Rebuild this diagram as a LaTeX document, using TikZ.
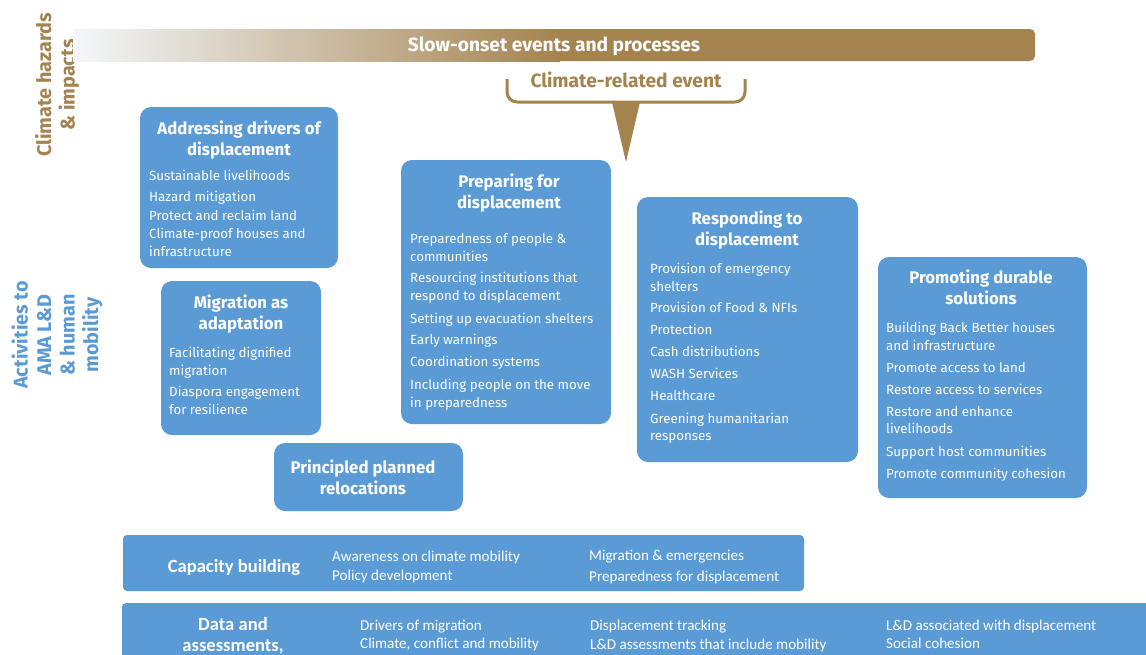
\documentclass[tikz,border=0pt]{standalone}
\usepackage{fontspec}
\setmainfont{Fira Sans}
\newfontfamily\calfont{Carlito}
\definecolor{amablue}{RGB}{91,155,213}
\definecolor{amabrown}{RGB}{164,131,79}
\definecolor{amafade}{RGB}{244,247,251}
\begin{document}
\begin{tikzpicture}[x=1pt,y=-1pt,
  card/.style={fill=amablue, rounded corners=11pt},
  bar/.style={fill=amablue, rounded corners=4pt},
  headtxt/.style={font=\fontsize{16.8}{20}\selectfont\bfseries, text=white, anchor=base, inner sep=0pt},
  itemtxt/.style={font=\fontsize{13.3}{16}\selectfont, text=white, anchor=base west, inner sep=0pt},
  calhead/.style={font=\calfont\fontsize{18.6}{20}\selectfont\bfseries, text=white, anchor=base, inner sep=0pt},
  calitem/.style={font=\calfont\fontsize{15.1}{17}\selectfont, text=white, anchor=base west, inner sep=0pt},
  sidelabel/.style={rotate=90, align=center, font=\fontsize{19.8}{23.5}\selectfont\bfseries, inner sep=0pt}]
\useasboundingbox (0,0) rectangle (1146,654);
\fill[white] (0,0) rectangle (1146,654);

% axis labels
\node[sidelabel, text=amabrown] (hazards) at (57,85) {Climate hazards\\\& impacts};
\node[sidelabel, text=amablue] (activities) at (57,335) {Activities to\\AMA L\&D\\\& human\\mobility};

% slow-onset bar: fades in from the left, solid brown from the middle on
\fill[amabrown, rounded corners=5pt] (500,29) rectangle (1035,61);
\shade[left color=amafade, right color=amabrown] (73,29) rectangle (560,61);
\node[font=\fontsize{19.2}{22}\selectfont\bfseries, text=white, anchor=base, inner sep=0pt] (slow) at (554,51) {Slow-onset events and processes};

% climate-related event callout
\coordinate (brL) at (507,79);
\coordinate (brR) at (745,79);
\draw[amabrown, line width=3pt, rounded corners=10pt] (brL) -- (507,102) -- (745,102) -- (brR);
\fill[amabrown] (612,102) -- (640,102) -- (626,162) -- cycle;
\node[font=\fontsize{19.2}{22}\selectfont\bfseries, text=amabrown, anchor=base, inner sep=0pt] (event) at (626,87) {Climate-related event};

% activity cards
\fill[card] (140,107) rectangle (338,268);
\fill[card] (161,281) rectangle (321,435);
\fill[card] (274,443) rectangle (463,511);
\fill[card] (401,160) rectangle (611,424);
\fill[card] (637,197) rectangle (858,462);
\fill[card] (878,257) rectangle (1087,498);

% addressing drivers
\foreach \y/\t [count=\i] in {134/Addressing drivers of, 155/displacement}
  \node[headtxt] (drvh\i) at (239,\y) {\t};
\foreach \y/\t [count=\i] in {180/Sustainable livelihoods, 201/Hazard mitigation, 220/Protect and reclaim land, 238/Climate-proof houses and, 256/infrastructure}
  \node[itemtxt] (drv\i) at (149,\y) {\t};

% migration as adaptation
\foreach \y/\t [count=\i] in {308/Migration as, 329/adaptation}
  \node[headtxt] (migh\i) at (241,\y) {\t};
\foreach \y/\t [count=\i] in {357/Facilitating dignified, 375/migration, 396/Diaspora engagement, 414/for resilience}
  \node[itemtxt] (mig\i) at (169,\y) {\t};

% planned relocations
\foreach \y/\t [count=\i] in {473/Principled planned, 494/relocations}
  \node[headtxt] (relh\i) at (363,\y) {\t};

% preparing for displacement
\foreach \y/\t [count=\i] in {187/Preparing for, 208/displacement}
  \node[headtxt] (preh\i) at (509,\y) {\t};
\foreach \y/\t [count=\i] in {243/Preparedness of people \&, 261/communities, 282/Resourcing institutions that, 300/respond to displacement, 323/Setting up evacuation shelters, 344/Early warnings, 366/Coordination systems, 389/Including people on the move, 407/in preparedness}
  \node[itemtxt] (pre\i) at (410,\y) {\t};

% responding to displacement
\foreach \y/\t [count=\i] in {224/Responding to, 245/displacement}
  \node[headtxt] (resh\i) at (747,\y) {\t};
\foreach \y/\t [count=\i] in {273/Provision of emergency, 291/shelters, 312/Provision of Food \& NFIs, 334/Protection, 356/Cash distributions, 378/WASH Services, 400/Healthcare, 423/Greening humanitarian, 440/responses}
  \node[itemtxt] (res\i) at (650,\y) {\t};

% durable solutions
\foreach \y/\t [count=\i] in {283/Promoting durable, 304/solutions}
  \node[headtxt] (durh\i) at (981,\y) {\t};
\foreach \y/\t [count=\i] in {332/Building Back Better houses, 350/and infrastructure, 372/Promote access to land, 394/Restore access to services, 416/Restore and enhance, 433/livelihoods, 456/Support host communities, 478/Promote community cohesion}
  \node[itemtxt] (dur\i) at (886,\y) {\t};

% capacity building
\fill[bar] (123,535) rectangle (804,591);
\node[calhead] (caph) at (234,572) {Capacity building};
\node[calitem] (cap1) at (332,561) {Awareness on climate mobility};
\node[calitem] (cap2) at (332,580) {Policy development};
\node[calitem] (cap3) at (589,560) {Migration \& emergencies};
\node[calitem] (cap4) at (589,581) {Preparedness for displacement};

% data and assessments
\fill[bar] (122,603) rectangle (1170,680);
\node[calhead] (dath1) at (233,630) {Data and};
\node[calhead] (dath2) at (233,651) {assessments,};
\node[calitem] (dat1) at (360,630) {Drivers of migration};
\node[calitem] (dat2) at (360,648) {Climate, conflict and mobility};
\node[calitem] (dat3) at (590,630) {Displacement tracking};
\node[calitem] (dat4) at (590,649) {L\&D assessments that include mobility};
\node[calitem] (dat5) at (886,630) {L\&D associated with displacement};
\node[calitem] (dat6) at (886,648) {Social cohesion};
\end{tikzpicture}
\end{document}
